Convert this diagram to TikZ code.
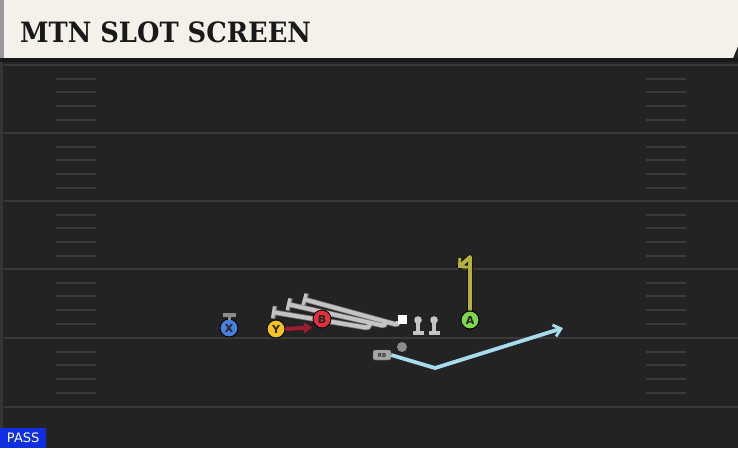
\documentclass[tikz,border=0pt]{standalone}
\usepackage{fontspec}
\setmainfont{DejaVu Serif}
\setsansfont{DejaVu Sans}
\usetikzlibrary{arrows.meta}
\definecolor{bg}{HTML}{232323}
\definecolor{fieldline}{HTML}{3A3A3A}
\definecolor{cream}{HTML}{F3F1EA}
\definecolor{routegray}{HTML}{C4C4C4}
\definecolor{xblue}{HTML}{4A80DC}
\definecolor{yyellow}{HTML}{F2C21E}
\definecolor{bred}{HTML}{E0303E}
\definecolor{agreen}{HTML}{7ED64A}
\definecolor{olive}{HTML}{B4B23C}
\definecolor{skyblue}{HTML}{A6DDEE}
\definecolor{darkred}{HTML}{A01A30}
\definecolor{passblue}{HTML}{1030E0}
\tikzset{
  player/.style={circle,draw=black,line width=0.9pt,minimum size=18pt,inner sep=0pt,
    font=\sffamily\bfseries\fontsize{11}{11}\selectfont,text=black!85},
  yardline/.style={fieldline,line width=2pt},
  hashmark/.style={fieldline,line width=1.5pt},
  olrouteback/.style={black!55,line width=5.5pt,rounded corners=3pt,-{Bar[width=13pt,line width=4.5pt]}},
  olroute/.style={routegray,line width=4pt,rounded corners=3pt,-{Bar[width=11.5pt,line width=3pt]}},
}
\begin{document}
\begin{tikzpicture}[x=1pt,y=-1pt]
\useasboundingbox (0,0) rectangle (738,448);
% background
\fill[bg] (0,0) rectangle (738,448);
\fill[fieldline!80!bg] (0,58) rectangle (3,448);
% header
\fill[cream] (0,0) -- (738,0) -- (738,46) -- (733,58) -- (0,58) -- cycle;
\fill[black!40] (0,0) rectangle (4,58);
\fill[black!90] (0,58) rectangle (738,62);
\node[anchor=base west,inner sep=0pt,font=\bfseries\fontsize{28}{28}\selectfont,text=black!90] (title) at (20,42) {\scalebox{0.92}[1]{MTN SLOT SCREEN}};
% yard lines
\foreach \yy in {65,133,201,269,338,407} {
  \draw[yardline] (4,\yy) -- (738,\yy);
}
% hash marks
\foreach \yy in {65,133,201,269,338} {
  \foreach \dd in {14,27,41,55} {
    \draw[hashmark] (56,\yy+\dd) -- (96,\yy+\dd);
    \draw[hashmark] (646,\yy+\dd) -- (686,\yy+\dd);
  }
}
% offensive line
\coordinate (Cp) at (398,321);
\coordinate (LG) at (386,321);
\coordinate (LT) at (370,322);
\coordinate (Ct) at (303,299);
\coordinate (LGt) at (287,304);
\coordinate (LTt) at (272,312);
\foreach \st in {olrouteback,olroute} {
  \draw[\st] (Cp) -- (398,325) -- (Ct);
  \draw[\st] (LG) -- (385,326) -- (LGt);
  \draw[\st] (LT) -- (369,328) -- (LTt);
}
\node[fill=white,minimum size=9pt,inner sep=0pt] (C) at (402,319) {};
\foreach \xx/\nm in {418/RG,434/RT} {
  \fill[routegray] (\xx,320) circle (3.8pt);
  \fill[routegray] (\xx-2,320) rectangle (\xx+2,331);
  \fill[routegray] (\xx-5.5,330.5) rectangle (\xx+5.5,334.5);
  \coordinate (\nm) at (\xx,326);
}
% QB dot
\node[circle,fill=black!45,minimum size=10pt,inner sep=0pt] (QB) at (402,347) {};
% RB
\node[fill=black!35,draw=black!60,rounded corners=2pt,minimum width=18pt,minimum height=10pt,inner sep=0pt,
  font=\sffamily\bfseries\fontsize{5.5}{5.5}\selectfont,text=black!80] (RB) at (382,355) {RB};
\coordinate (rb1) at (435,368);
\coordinate (rb2) at (563,328);
\draw[skyblue,line width=3.8pt,-{Straight Barb[length=7pt,width=12pt,line width=2.8pt]}] (RB.east) -- (rb1) -- (rb2);
% X with block mark
\node[player,fill=xblue] (X) at (229,328) {X};
\fill[black!45] (222.5,313) rectangle (235.5,317);
\fill[black!45] (227.5,317) rectangle (230.5,320);
% Y and arrow
\node[player,fill=yyellow] (Y) at (276,329) {Y};
% B
\node[player,fill=bred] (B) at (322,319) {B};
\draw[darkred,line width=4pt,-{Triangle[length=8pt,width=11pt]}] (Y.east) -- (312,327.5);
% A route
\node[player,fill=agreen] (A) at (470,320) {A};
\coordinate (a1) at (470,257);
\coordinate (a2) at (458,268);
\draw[black,line width=5.5pt,line join=round] (A.north) -- (a1) -- (a2);
\draw[olive,line width=4pt,line join=round,-{Straight Barb[length=6pt,width=12pt,line width=2.8pt]}] (A.north) -- (a1) -- (a2);
\node[player,fill=agreen] at (470,320) {A};
% PASS tag
\node[fill=passblue,anchor=south west,minimum width=46pt,minimum height=20pt,inner sep=0pt,
  font=\sffamily\fontsize{13}{13}\selectfont,text=white] (pass) at (0,448) {PASS};
\end{tikzpicture}
\end{document}
